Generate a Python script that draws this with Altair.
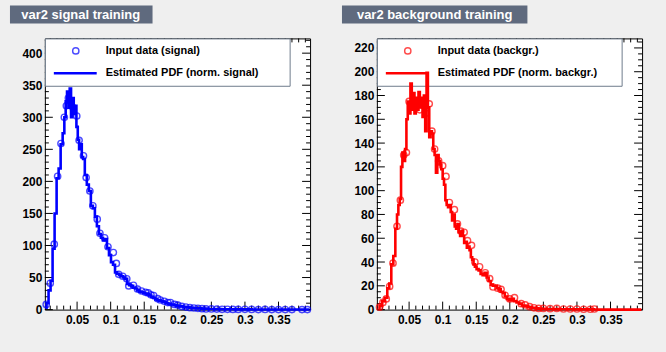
import altair as alt
import pandas as pd

# ---------------- data ----------------
sig_pdf_x = [0.003, 0.006, 0.009, 0.012, 0.015, 0.018, 0.021, 0.024, 0.027, 0.030,
             0.032, 0.034, 0.036, 0.038, 0.040, 0.042, 0.044, 0.046, 0.048, 0.050,
             0.052, 0.054, 0.056, 0.058, 0.060, 0.063, 0.066, 0.069, 0.072, 0.075,
             0.078, 0.081, 0.084, 0.087, 0.090, 0.093, 0.096, 0.099, 0.102, 0.105,
             0.108, 0.111, 0.114, 0.117, 0.120, 0.123, 0.126, 0.129, 0.132, 0.135,
             0.138, 0.141, 0.144, 0.147, 0.150, 0.153, 0.156, 0.159, 0.162, 0.165,
             0.168, 0.171, 0.174, 0.177, 0.180, 0.184, 0.188, 0.192, 0.196, 0.200,
             0.205, 0.210, 0.215, 0.220, 0.225, 0.230, 0.240, 0.250, 0.260, 0.270,
             0.280, 0.290, 0.300, 0.320, 0.340, 0.360, 0.380, 0.396]
sig_pdf_y = [3, 10, 30, 45, 95, 150, 205, 220, 258, 275,
             300, 325, 340, 315, 345, 300, 330, 305, 318, 285,
             265, 250, 258, 238, 235, 210, 195, 185, 162, 158,
             145, 130, 118, 112, 108, 110, 96, 85, 74, 70,
             58, 56, 54, 52, 50, 48, 40, 38, 37, 34,
             33, 30, 28, 27, 26, 25, 24, 22, 20, 18,
             16, 15, 14, 13, 12, 10, 9, 8, 7, 6,
             5, 4, 3.5, 3, 2.5, 2, 1.5, 1, 0.8, 0.6,
             0.5, 0.4, 0.3, 0.2, 0.2, 0.1, 0.1, 0.1]

sig_dat_x = [0.004, 0.010, 0.016, 0.021, 0.026, 0.031, 0.034, 0.037, 0.040, 0.044,
             0.0495, 0.053, 0.0595, 0.0635, 0.069, 0.0735, 0.080, 0.084, 0.091, 0.096,
             0.104, 0.1085, 0.112, 0.118, 0.124, 0.127, 0.134, 0.140, 0.146, 0.152,
             0.156, 0.160, 0.164, 0.170, 0.174, 0.180, 0.185, 0.189, 0.195, 0.200,
             0.206, 0.212, 0.218, 0.224, 0.230, 0.236, 0.242, 0.250, 0.258, 0.266,
             0.274, 0.282, 0.290, 0.300, 0.310, 0.320, 0.330, 0.340, 0.350, 0.360,
             0.370, 0.385, 0.393]
sig_dat_y = [8, 41, 102, 208, 259, 300, 318, 330, 325, 315,
             302, 264, 240, 206, 185, 162, 141, 119, 112, 98,
             89, 72, 55, 52, 48, 37, 38, 32, 29, 27,
             26, 23, 22, 17, 15, 13, 11, 11, 8, 7,
             5, 4, 3, 2.5, 2, 1.5, 1, 1, 0.8, 0.5,
             0.5, 0.3, 0.3, 0.5, 0.2, 0, 0.2, 0, 0, 0.1,
             0, 0, 0]

bkg_pdf_x = [0.004, 0.008, 0.012, 0.016, 0.019, 0.022, 0.025, 0.028, 0.031, 0.033,
             0.035, 0.037, 0.039, 0.041, 0.043, 0.045, 0.047, 0.049, 0.051, 0.053,
             0.055, 0.057, 0.059, 0.061, 0.063, 0.065, 0.067, 0.069, 0.071, 0.073,
             0.075, 0.077, 0.079, 0.081, 0.083, 0.085, 0.087, 0.089, 0.091, 0.093,
             0.095, 0.097, 0.099, 0.101, 0.103, 0.105, 0.107, 0.109, 0.111, 0.113,
             0.115, 0.117, 0.119, 0.121, 0.123, 0.125, 0.127, 0.129, 0.131, 0.133,
             0.135, 0.137, 0.139, 0.141, 0.143, 0.145, 0.147, 0.149, 0.152, 0.155,
             0.158, 0.161, 0.164, 0.167, 0.170, 0.173, 0.176, 0.179, 0.182, 0.185,
             0.188, 0.191, 0.194, 0.197, 0.200, 0.204, 0.208, 0.212, 0.216, 0.220,
             0.225, 0.230, 0.235, 0.240, 0.245, 0.250, 0.260, 0.270, 0.280, 0.290,
             0.300, 0.310, 0.320, 0.330, 0.335, 0.360, 0.396]
bkg_pdf_y = [1, 3, 7, 10, 18, 22, 38, 45, 68, 80,
             88, 93, 120, 132, 125, 135, 160, 175, 165, 190,
             168, 182, 165, 178, 168, 183, 170, 178, 162, 180,
             150, 199, 170, 145, 150, 148, 135, 130, 115, 130,
             125, 122, 118, 110, 105, 92, 88, 86, 88, 82,
             75, 80, 70, 68, 72, 65, 62, 66, 62, 56,
             57, 52, 53, 50, 44, 42, 38, 36, 34, 33,
             30, 29, 31, 27, 24, 21, 20, 20, 18, 17,
             15, 14, 11, 9, 8, 9, 7, 6, 5, 3.5,
             3, 2, 1.5, 1, 0.8, 0.6, 0.5, 0.4, 0.3, 0.3,
             0.2, 0.2, 0.2, 0.1, 0, 0, 0]

bkg_dat_x = [0.006, 0.011, 0.016, 0.021, 0.026, 0.032, 0.037, 0.042, 0.046, 0.050,
             0.054, 0.058, 0.062, 0.066, 0.070, 0.075, 0.080, 0.084, 0.088, 0.094,
             0.100, 0.105, 0.110, 0.1175, 0.122, 0.127, 0.132, 0.137, 0.143, 0.148,
             0.155, 0.1635, 0.170, 0.175, 0.182, 0.187, 0.193, 0.200, 0.207, 0.217,
             0.223, 0.2295, 0.236, 0.243, 0.250, 0.260, 0.270, 0.280, 0.290, 0.300,
             0.310, 0.320, 0.326]
bkg_dat_y = [2, 6, 9, 19.5, 39, 70, 92, 130, 132, 175,
             172, 170, 175, 168, 172, 165, 173, 150, 135, 125,
             121, 112, 90, 84, 72, 66, 65, 58, 54, 40,
             36, 31, 26, 19, 18, 17, 12, 9, 10, 5,
             4, 2.5, 1.5, 1, 1, 0.8, 1, 0.5, 0.5, 0.5,
             0.3, 0.3, 0.5]

x_labels = [0.05, 0.1, 0.15, 0.2, 0.25, 0.3, 0.35]

W, H = 266, 272
FONT = "Liberation Sans"
BG = "#efefef"
TITLE_BG = "#5f6a7e"
LEG_BORDER = "#6e7b8c"


def one():
    return alt.Data(values=[{"a": 0}])


def panel(title, t_x2, t_cx, pdf_x, pdf_y, dat_x, dat_y, color, ymax, ymajor, yminor,
          leg1, leg2, filler=False):
    xs = alt.Scale(domain=[0.002, 0.397], nice=False, zero=False)
    ys = alt.Scale(domain=[0, ymax], nice=False, zero=True)
    pdf = pd.DataFrame({"x": pdf_x, "y": pdf_y})
    dat = pd.DataFrame({"x": dat_x, "y": dat_y})

    x_major = x_labels
    x_minor = [i / 100 for i in range(1, 40) if i % 5]
    y_major = list(range(0, ymax + 1, ymajor))
    y_minor = [v for v in range(0, ymax + 1, yminor) if v % ymajor]

    xaxis = alt.Axis(values=x_labels, format="~g", ticks=False, domain=False,
                     grid=False, labelPadding=5, labelFlush=False, title=None)
    yaxis = alt.Axis(values=y_major, ticks=False, domain=False, grid=False,
                     labelPadding=3, labelFlush=False, title=None)

    def X(f):
        return alt.X(f, scale=xs, axis=xaxis, title=None)

    def Y(f):
        return alt.Y(f, scale=ys, axis=yaxis, title=None)

    layers = []
    if filler:
        layers.append(alt.Chart(one()).mark_rect(color=BG).encode(
            x=alt.value(W + 21), x2=alt.value(W + 23),
            y=alt.value(H + 41), y2=alt.value(H + 43)))

    def xticks(vals, y1, y2):
        return alt.Chart(pd.DataFrame({"x": vals})).mark_rule(color="black", strokeWidth=1).encode(
            x=X("x:Q"), y=alt.value(y1), y2=alt.value(y2))

    def yticks(vals, x1, x2):
        return alt.Chart(pd.DataFrame({"y": vals})).mark_rule(color="black", strokeWidth=1).encode(
            y=Y("y:Q"), x=alt.value(x1), x2=alt.value(x2))

    layers += [
        xticks(x_major, H, H - 8), xticks(x_minor, H, H - 4),
        xticks(x_major, 0, 8), xticks(x_minor, 0, 4),
        yticks(y_major, 0, 8), yticks(y_minor, 0, 4),
        yticks(y_major, W, W - 8), yticks(y_minor, W, W - 4),
    ]

    # legend box
    layers.append(alt.Chart(one()).mark_rect(fill="white", stroke=LEG_BORDER, strokeWidth=1).encode(
        x=alt.value(0.5), x2=alt.value(246), y=alt.value(0.5), y2=alt.value(48)))
    layers.append(alt.Chart(one()).mark_point(shape="circle", filled=False, size=40,
                                              strokeWidth=1.4, color=color).encode(
        x=alt.value(31), y=alt.value(12.5)))
    layers.append(alt.Chart(one()).mark_rule(color=color, strokeWidth=2.5).encode(
        x=alt.value(9), x2=alt.value(52), y=alt.value(35)))
    for txt, yy in ((leg1, 12.5), (leg2, 35)):
        layers.append(alt.Chart(one()).mark_text(
            text=txt, align="left", baseline="middle", font=FONT, fontSize=11,
            fontWeight="bold", color="black").encode(x=alt.value(61), y=alt.value(yy)))

    # data
    layers.append(alt.Chart(dat).mark_point(shape="circle", filled=False, size=40,
                                            strokeWidth=1.4, color=color).encode(
        x=X("x:Q"), y=Y("y:Q")))
    layers.append(alt.Chart(pdf).mark_line(interpolate="step", strokeWidth=2.6, color=color).encode(
        x=X("x:Q"), y=Y("y:Q")))

    # title box
    layers.append(alt.Chart(one()).mark_rect(fill=TITLE_BG).encode(
        x=alt.value(-35), x2=alt.value(t_x2), y=alt.value(-33), y2=alt.value(-15)))
    layers.append(alt.Chart(one()).mark_text(
        text=title, align="center", baseline="middle", font=FONT, fontSize=13,
        fontWeight="bold", color="white").encode(x=alt.value(t_cx), y=alt.value(-23.5)))

    return alt.layer(*layers).properties(width=W, height=H)


left = panel("var2 signal training", 108, 36, sig_pdf_x, sig_pdf_y, sig_dat_x, sig_dat_y,
             "#0000ff", 423, 50, 10, "Input data (signal)", "Estimated PDF (norm. signal)")
right = panel("var2 background training", 151, 58, bkg_pdf_x, bkg_pdf_y, bkg_dat_x, bkg_dat_y,
              "#ff0000", 228, 20, 5, "Input data (backgr.)", "Estimated PDF (norm. backgr.)",
              filler=True)

chart = alt.hconcat(left, right, spacing=67, bounds="flush").properties(
    background=BG,
    padding={"left": 9, "top": 4, "right": 0, "bottom": 0},
).configure_view(
    stroke="black", strokeWidth=1, fill="white"
).configure_axis(
    labelFont=FONT, labelFontSize=12, labelFontWeight="bold", labelColor="black"
)

chart.save("out.html", embed_options={"renderer": "svg", "actions": False})
